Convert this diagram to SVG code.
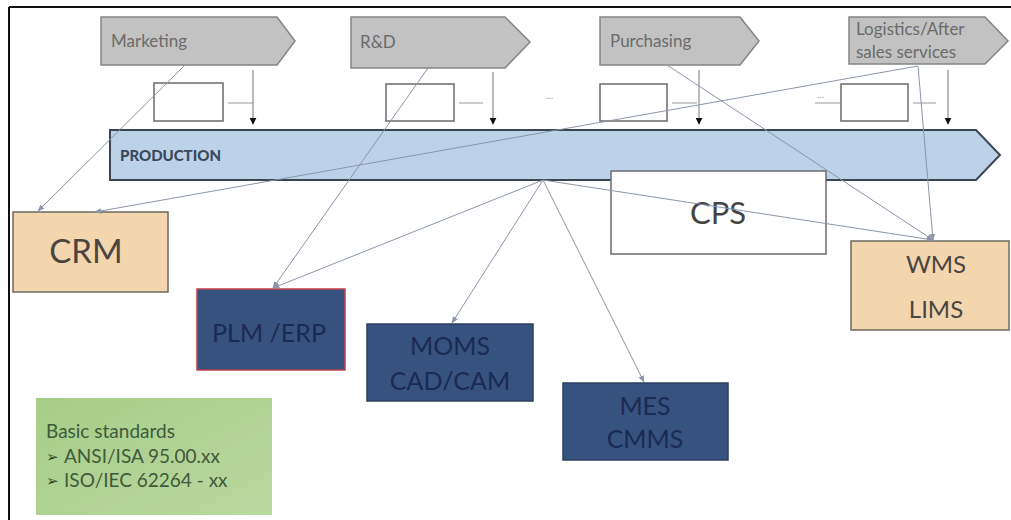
<svg xmlns="http://www.w3.org/2000/svg" width="1011" height="520" viewBox="0 0 1011 520">
<defs>
<marker id="ah" viewBox="0 0 10 10" refX="9" refY="5" markerWidth="7" markerHeight="7" orient="auto" markerUnits="userSpaceOnUse">
<path d="M0,1 L10,5 L0,9 Z" fill="#8a95aa"/>
</marker>
<marker id="bh" viewBox="0 0 10 10" refX="9" refY="5" markerWidth="7" markerHeight="7" orient="auto" markerUnits="userSpaceOnUse">
<path d="M0,0 L10,5 L0,10 Z" fill="#111"/>
</marker>
<linearGradient id="gr" x1="0" y1="0" x2="1" y2="1">
<stop offset="0" stop-color="#a6cd88"/>
<stop offset="1" stop-color="#b9d9a0"/>
</linearGradient>
</defs>
<style>
.proc{fill:#c2c2c2;stroke:#858585;stroke-width:1.5}
.ptxt{font-family:Lato,"Open Sans",sans-serif;font-size:17px;fill:#6b6b6b}
.sbox{fill:#fff;stroke:#6b6b6b;stroke-width:1.5}
.tick{stroke:#9a9a9a;stroke-width:1}
.drop{stroke:#777;stroke-width:1;marker-end:url(#bh)}
.conn{stroke:#8a95aa;stroke-width:1;fill:none;marker-end:url(#ah)}
.tan{fill:#f3d5ae;stroke:#6e6a62;stroke-width:1.5}
.navy{fill:#36537f;stroke:#2b3f60;stroke-width:1.5}
.ntxt{font-family:Lato,"Open Sans",sans-serif;font-size:25px;fill:#1b2a52;text-anchor:middle}
.ttxt{font-family:Lato,"Open Sans",sans-serif;fill:#4a4540;text-anchor:middle}
.gtxt{font-family:Lato,"Open Sans",sans-serif;font-size:19px;fill:#3f5a3a}
.bul{font-family:"DejaVu Sans",sans-serif;font-size:15px;fill:#2f4a2a}
.dots{font-family:Lato,sans-serif;font-size:10px;fill:#999}
</style>
<rect x="0" y="0" width="1011" height="520" fill="#fff"/>
<line x1="9" y1="7" x2="1011" y2="7" stroke="#111" stroke-width="2"/>
<line x1="9" y1="7" x2="9" y2="520" stroke="#111" stroke-width="2"/>

<g id="marketing">
<path class="proc" d="M101,17 H277 L295,41 L277,65 H101 Z"/>
<text class="ptxt" x="111" y="47">Marketing</text>
</g>
<g id="rnd">
<path class="proc" d="M351,17 H505 L530,42 L505,68 H351 Z"/>
<text class="ptxt" x="360" y="48">R&amp;D</text>
</g>
<g id="purchasing">
<path class="proc" d="M600,17 H740 L759,41 L740,65 H600 Z"/>
<text class="ptxt" x="610" y="47">Purchasing</text>
</g>
<g id="logistics">
<path class="proc" d="M849,17 H985 L1008,41 L985,64 H849 Z"/>
<text class="ptxt" x="856" y="35">Logistics/After</text>
<text class="ptxt" x="856" y="58">sales services</text>
</g>

<g id="steps">
<rect class="sbox" x="154" y="83" width="69" height="38"/>
<line class="tick" x1="228" y1="103" x2="253" y2="103"/>
<rect class="sbox" x="386" y="84" width="68" height="37"/>
<line class="tick" x1="459" y1="103" x2="483" y2="103"/>
<text class="dots" x="546" y="99">...</text>
<rect class="sbox" x="600" y="84" width="67" height="37"/>
<line class="tick" x1="672" y1="103" x2="697" y2="103"/>
<text class="dots" x="817" y="98">...</text>
<line class="tick" x1="815" y1="103" x2="840" y2="103"/>
<rect class="sbox" x="841" y="84" width="67" height="37"/>
<line class="tick" x1="913" y1="103" x2="936" y2="103"/>
</g>

<g id="production">
<path d="M110,130 H976 L1000,155 L976,180 H110 Z" fill="#bcd2e8" stroke="#3c4652" stroke-width="2"/>
<text x="120" y="161" font-family="Lato,'Open Sans',sans-serif" font-size="15" font-weight="900" fill="#3a4a5c">PRODUCTION</text>
</g>

<g id="cps">
<rect x="611" y="171" width="215" height="83" fill="#fff" stroke="#6b6b6b" stroke-width="1.5"/>
<text class="ttxt" x="718" y="224" font-size="31" style="fill:#454545">CPS</text>
</g>

<g id="crm">
<rect class="tan" x="13" y="212" width="155" height="80"/>
<text class="ttxt" x="86" y="263" font-size="33">CRM</text>
</g>

<g id="wms">
<rect class="tan" x="851" y="241" width="158" height="89"/>
<text class="ttxt" x="936" y="273" font-size="24">WMS</text>
<text class="ttxt" x="936" y="318" font-size="24">LIMS</text>
</g>

<g id="plm">
<rect class="navy" x="197" y="289" width="148" height="81" style="stroke:#c0404c"/>
<text class="ntxt" x="269" y="342">PLM /ERP</text>
</g>

<g id="moms">
<rect class="navy" x="367" y="324" width="166" height="77"/>
<text class="ntxt" x="450" y="355">MOMS</text>
<text class="ntxt" x="450" y="390">CAD/CAM</text>
</g>

<g id="mes">
<rect class="navy" x="563" y="383" width="165" height="77"/>
<text class="ntxt" x="645" y="415">MES</text>
<text class="ntxt" x="645" y="448">CMMS</text>
</g>

<g id="standards">
<rect x="36" y="398" width="236" height="117" fill="url(#gr)"/>
<text class="gtxt" x="46" y="438">Basic standards</text>
<text class="bul" x="46" y="462">➢</text>
<text class="gtxt" x="64" y="463">ANSI/ISA 95.00.xx</text>
<text class="bul" x="46" y="486">➢</text>
<text class="gtxt" x="64" y="487">ISO/IEC 62264 - xx</text>
</g>

<g id="connectors">
<line class="drop" x1="253" y1="70" x2="253" y2="124"/>
<line class="drop" x1="493" y1="72" x2="493" y2="124"/>
<line class="drop" x1="699" y1="70" x2="699" y2="124"/>
<line class="drop" x1="948" y1="70" x2="948" y2="124"/>
<line class="conn" x1="185" y1="65" x2="38" y2="211"/>
<line class="conn" x1="918" y1="66" x2="95" y2="212"/>
<line class="conn" x1="428" y1="68" x2="273" y2="288"/>
<line class="conn" x1="543" y1="180" x2="273" y2="288"/>
<line class="conn" x1="543" y1="180" x2="452" y2="323"/>
<line class="conn" x1="543" y1="180" x2="644" y2="382"/>
<line class="conn" x1="543" y1="180" x2="933" y2="240"/>
<line class="conn" x1="667" y1="65" x2="933" y2="240"/>
<line class="conn" x1="918" y1="66" x2="933" y2="240"/>
</g>
</svg>
